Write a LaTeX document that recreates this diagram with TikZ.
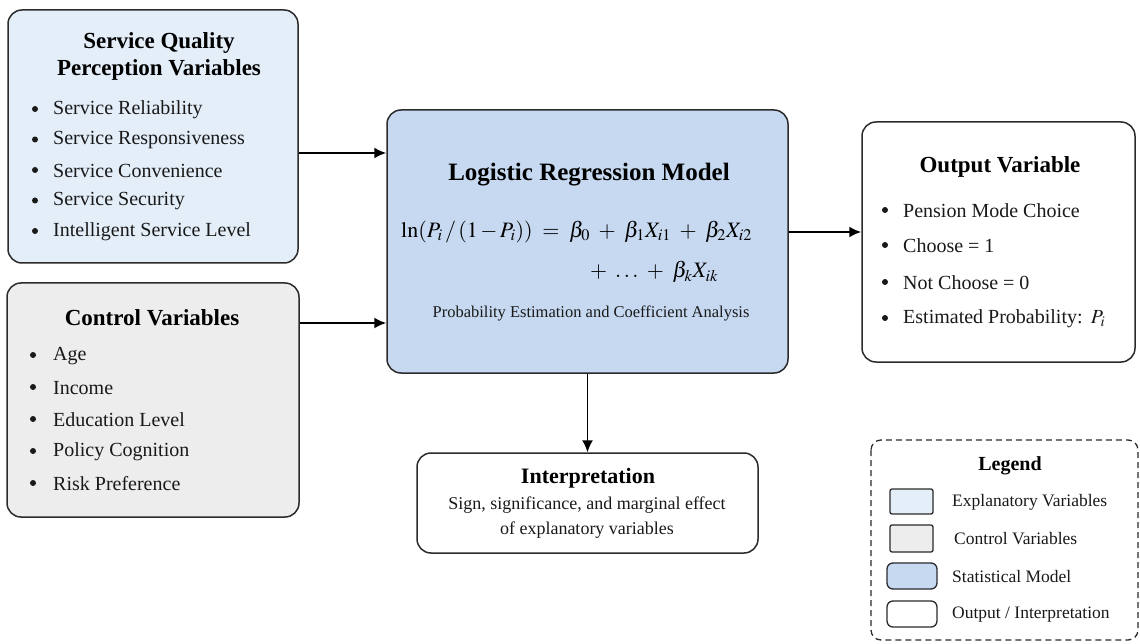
\documentclass[tikz,border=0pt]{standalone}
\usepackage{mathptmx}
\usepackage{fontspec}
\setmainfont{Liberation Serif}
\usetikzlibrary{arrows.meta,calc}

\definecolor{explfill}{HTML}{E4EEF9}
\definecolor{ctrlfill}{HTML}{EDEDED}
\definecolor{modelfill}{HTML}{C6D9F1}
\definecolor{edgecol}{HTML}{2B2B2B}

\tikzset{
  box/.style={draw=edgecol, line width=1.5pt, rounded corners=14pt, inner sep=0pt},
  ttl/.style={font=\fontsize{23}{27}\selectfont\bfseries, align=center, inner sep=0pt},
  item/.style={font=\fontsize{20}{24}\selectfont, anchor=west, inner sep=0pt, text=black!90},
  bul/.style={circle, fill=black!90, inner sep=0pt, minimum size=6pt},
  arr/.style={line width=1.8pt, draw=black, -{Latex[length=12pt,width=11pt]}},
  eqn/.style={font=\fontsize{22}{26}\selectfont, anchor=west, inner sep=0pt,
    execute at begin node={\medmuskip=7mu\thickmuskip=8mu}},
  swatch/.style={draw=edgecol, line width=1.3pt, minimum width=#1, minimum height=26pt, inner sep=0pt},
  leglab/.style={font=\fontsize{17.5}{21}\selectfont, anchor=west, inner sep=0pt, text=black!90},
}

\begin{document}
\begin{tikzpicture}[x=1pt,y=-1pt]
\path[use as bounding box, fill=white] (0,0) rectangle (1140,644);

% ---- explanatory variables
\node[box, fill=explfill, minimum width=290pt, minimum height=253pt] (sq) at (153,136.5) {};
\node[ttl] (sqt) at (159,56.5) {Service Quality\\Perception Variables};
\foreach \t [count=\k] in {Service Reliability, Service Responsiveness, Service Convenience, Service Security, Intelligent Service Level} {
  \node[bul] (sqb\k) at (35,{109+30.5*(\k-1)}) {};
  \node[item] (sqi\k) at (53,{110+30.5*(\k-1)}) {\t};
}

% ---- control variables
\node[box, fill=ctrlfill, minimum width=292pt, minimum height=234pt] (ct) at (153,400) {};
\node[ttl] (ctt) at (152,318) {Control Variables};
\foreach \t [count=\k] in {Age, Income, Education Level, Policy Cognition, Risk Preference} {
  \node[bul] (ctb\k) at (33,{355+32*(\k-1)}) {};
  \node[item] (cti\k) at (53,{356+32*(\k-1)}) {\t};
}

% ---- statistical model
\node[box, fill=modelfill, minimum width=401pt, minimum height=263pt] (mdl) at (587.5,241.5) {};
\node[ttl, font=\fontsize{25}{29}\selectfont\bfseries] (mdlt) at (589,175) {Logistic Regression Model};
\node[eqn] (eq1) at (401,232) {$\ln(P_i\,/\,(1\,{-}\,P_i)) = \beta_0 + \beta_1 X_{i1} + \beta_2 X_{i2}$};
\node[eqn] (eq2) at (590,272) {$+\ \ldots + \beta_k X_{ik}$};
\node[font=\fontsize{16.5}{20}\selectfont, inner sep=0pt, text=black!90] (mdls) at (591,313) {Probability Estimation and Coefficient Analysis};

% ---- output variable
\node[box, fill=white, minimum width=273pt, minimum height=240pt] (out) at (998.5,242) {};
\node[ttl] (outt) at (1000,167) {Output Variable};
\foreach \t/\yy [count=\k] in {Pension Mode Choice/210, Choose = 1/245, Not Choose = 0/282, {Estimated Probability:\ \,$P_i$}/318} {
  \node[bul] (outb\k) at (885,\yy) {};
  \node[item] (outi\k) at (903,\yy+1) {\t};
}

% ---- interpretation
\node[box, fill=white, minimum width=341pt, minimum height=100pt] (int) at (587.5,503) {};
\node[ttl, font=\fontsize{22}{26}\selectfont\bfseries] (intt) at (588,478) {Interpretation};
\node[font=\fontsize{18}{25}\selectfont, align=center, inner sep=0pt, text=black!90] (intx) at (587,518) {Sign, significance, and marginal effect\\of explanatory variables};

% ---- connectors
\coordinate (r1) at (0,153);
\coordinate (r2) at (0,323);
\coordinate (r3) at (0,232);
\draw[arr] (sq.east |- r1) -- (mdl.west |- r1);
\draw[arr] (ct.east |- r2) -- (mdl.west |- r2);
\draw[arr] (mdl.east |- r3) -- (out.west |- r3);
\draw[arr, line width=1.5pt] (mdl.south) -- (int.north);

% ---- legend
\draw[draw=edgecol, line width=1.3pt, dash pattern=on 6pt off 4pt, rounded corners=10pt] (871,440) rectangle (1138,640);
\node[font=\fontsize{20}{24}\selectfont\bfseries, inner sep=0pt] (legt) at (1010,466) {Legend};
\node[swatch=43pt, fill=explfill, rounded corners=2pt, minimum height=25pt] (sw1) at (911.5,501.5) {};
\node[swatch=43pt, fill=ctrlfill, rounded corners=2pt, minimum height=27pt] (sw2) at (911.5,538.5) {};
\node[swatch=50pt, fill=modelfill, rounded corners=6pt] (sw3) at (912,576) {};
\node[swatch=50pt, fill=white, rounded corners=6pt] (sw4) at (912,614) {};
\node[leglab] (l1) at (952,502) {Explanatory Variables};
\node[leglab] (l2) at (954,539) {Control Variables};
\node[leglab] (l3) at (952,577) {Statistical Model};
\node[leglab] (l4) at (952,615) {Output / Interpretation};
\end{tikzpicture}
\end{document}
